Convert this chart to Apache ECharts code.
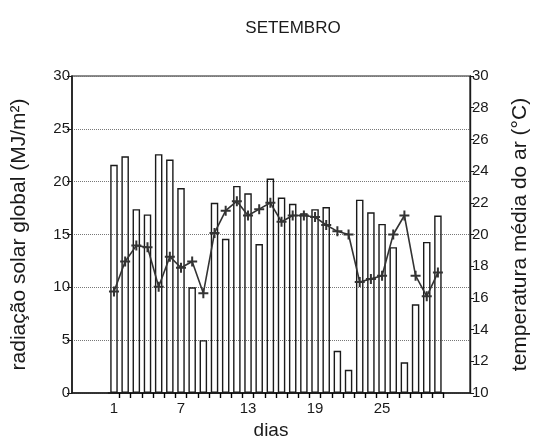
<!DOCTYPE html>
<html>
<head>
<meta charset="utf-8">
<script src="https://cdn.jsdelivr.net/npm/echarts@6/dist/echarts.min.js"></script>
<style>
  html, body { margin: 0; padding: 0; background: #fff; }
  #chart { width: 539px; height: 446px; }
</style>
</head>
<body>
<div id="chart"></div>
<script>
// Daily values for September
const days = ['1','2','3','4','5','6','7','8','9','10','11','12','13','14','15',
              '16','17','18','19','20','21','22','23','24','25','26','27','28','29','30'];

// Global solar radiation (MJ/m²)
const radiation = [21.6, 22.4, 17.4, 16.9, 22.6, 22.1, 19.4, 10.0, 5.0, 18.0,
                   14.6, 19.6, 18.9, 14.1, 20.3, 18.5, 17.9, 17.0, 17.4, 17.6,
                   4.0, 2.2, 18.3, 17.1, 16.0, 13.8, 2.9, 8.4, 14.3, 16.8];

// Mean air temperature (°C)
const temperature = [16.4, 18.3, 19.3, 19.2, 16.7, 18.6, 17.9, 18.3, 16.3, 20.1,
                     21.5, 22.1, 21.2, 21.6, 22.0, 20.8, 21.2, 21.2, 21.1, 20.6,
                     20.2, 20.0, 17.0, 17.2, 17.4, 20.0, 21.2, 17.4, 16.1, 17.6];

// Axis ranges
const radRange = { min: 0, max: 30, step: 5 };
const tempRange = { min: 10, max: 30, step: 2 };

const FONT = 'Liberation Sans';
const INK = '#1a1a1a';
const PLUS = 'path://M-1,-5H1V-1H5V1H1V5H-1V1H-5V-1H-1Z';

const chart = echarts.init(document.getElementById('chart'), null, { renderer: 'canvas' });

chart.setOption({
  animation: false,
  backgroundColor: '#fff',
  textStyle: { fontFamily: FONT },
  title: {
    text: 'SETEMBRO',
    left: 288, top: 15, textAlign: 'center',
    textStyle: { fontFamily: FONT, fontSize: 17, fontWeight: 'normal', color: INK }
  },
  grid: [
    // outer frame with both value axes
    { left: 72, right: 62, top: 76, bottom: 53, show: true, borderColor: INK, borderWidth: 1.2 },
    // inner band holding the daily marks
    { left: 108.4, right: 95.5, top: 76, bottom: 53 }
  ],
  xAxis: [
    {
      type: 'value', gridIndex: 0, min: 0, max: 1,
      axisLine: { show: true, onZero: false, lineStyle: { color: INK, width: 1.6 } },
      axisTick: { show: false }, axisLabel: { show: false }, splitLine: { show: false },
      name: 'dias', nameLocation: 'middle', nameGap: 28,
      nameTextStyle: { fontFamily: FONT, fontSize: 19, color: INK }
    },
    {
      type: 'category', gridIndex: 1, data: days, position: 'bottom',
      axisLine: { show: true, onZero: false, lineStyle: { color: INK, width: 1.6 } },
      // ticks sit between consecutive days
      axisTick: { show: true, inside: false, interval: (i) => i > 0, length: 5,
                  lineStyle: { color: '#000', width: 1.4 } },
      axisLabel: { interval: 5, margin: 8, fontSize: 15, color: INK, fontFamily: FONT },
      splitLine: { show: false }
    }
  ],
  yAxis: [
    {
      type: 'value', gridIndex: 0, position: 'left',
      min: radRange.min, max: radRange.max, interval: radRange.step,
      axisLine: { show: true, lineStyle: { color: INK, width: 1.6 } },
      axisTick: { show: true, length: 5, lineStyle: { color: INK } },
      axisLabel: { margin: 2, fontSize: 15, color: INK, fontFamily: FONT },
      splitLine: { show: true, lineStyle: { type: 'dotted', color: '#777', width: 1 } },
      name: 'radiação solar global (MJ/m²)', nameLocation: 'middle', nameGap: 42,
      nameTextStyle: { fontFamily: FONT, fontSize: 21, color: INK }
    },
    {
      type: 'value', gridIndex: 0, position: 'right',
      min: tempRange.min, max: tempRange.max, interval: tempRange.step,
      axisLine: { show: true, lineStyle: { color: INK, width: 1.4 } },
      axisTick: { show: true, length: 4, lineStyle: { color: INK } },
      axisLabel: { margin: 2, fontSize: 15, color: INK, fontFamily: FONT },
      splitLine: { show: false },
      name: 'temperatura média do ar (°C)', nameLocation: 'middle', nameGap: 40,
      nameTextStyle: { fontFamily: FONT, fontSize: 21, color: INK }
    },
    { type: 'value', gridIndex: 1, min: radRange.min, max: radRange.max, show: false },
    { type: 'value', gridIndex: 1, min: tempRange.min, max: tempRange.max, show: false }
  ],
  series: [
    {
      name: 'radiação solar global',
      type: 'bar', xAxisIndex: 1, yAxisIndex: 2,
      data: radiation, barWidth: 7.5,
      itemStyle: { color: 'rgba(255,255,255,0)', borderColor: INK, borderWidth: 1.4 }
    },
    {
      name: 'temperatura média do ar',
      type: 'line', xAxisIndex: 1, yAxisIndex: 3,
      data: temperature,
      symbol: PLUS, symbolSize: 10, showAllSymbol: true,
      lineStyle: { color: '#333', width: 1.6 },
      itemStyle: { color: '#333' }
    }
  ]
});
</script>
</body>
</html>
